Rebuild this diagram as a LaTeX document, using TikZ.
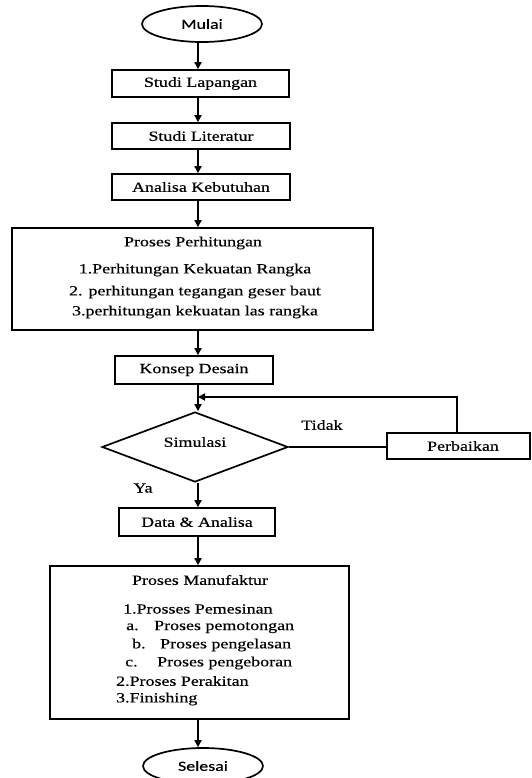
\documentclass[tikz,border=0pt]{standalone}
\usepackage{fontspec}
\setmainfont[FakeStretch=1.28,FakeBold=0.4]{Liberation Serif}
\newfontfamily\calib[FakeStretch=1.28,FakeBold=0.4]{Carlito}
\usetikzlibrary{shapes.geometric,arrows.meta}
\begin{document}
\begin{tikzpicture}[x=1pt,y=-1pt,
  every node/.style={font=\fontsize{14}{17}\selectfont},
  box/.style={draw,line width=1.7pt,inner sep=0pt,minimum width=#1},
  oval/.style={draw,ellipse,line width=1.7pt,inner sep=0pt,minimum width=120pt,minimum height=36pt,font=\calib\fontsize{14}{17}\selectfont},
  arr/.style={line width=1.7pt,-{Triangle[length=7pt,width=7pt]}},
  ln/.style={line width=1.7pt},
  txt/.style={inner sep=0pt}]
\useasboundingbox (0,0) rectangle (531,778);
\fill[white] (0,0) rectangle (531,778);
\coordinate (axis) at (198,0);
% nodes
\node[oval] (mulai) at (202,24) {Mulai};
\node[box=177pt,minimum height=27pt] (lap) at (200.5,83.5) {Studi Lapangan};
\node[box=178pt,minimum height=26pt] (lit) at (201,136) {Studi Literatur};
\node[box=178pt,minimum height=26pt] (ana) at (201,187) {Analisa Kebutuhan};
\node[box=361pt,minimum height=102pt] (hit) at (192.5,279) {};
\node[txt] (hit0) at (193,243) {Proses Perhitungan};
\node[txt] (hit1) at (195,270) {1.Perhitungan Kekuatan Rangka};
\node[txt] (hit2) at (195,292) {2. perhitungan tegangan geser baut};
\node[txt] (hit3) at (195,312) {3.perhitungan kekuatan las rangka};
\node[box=158pt,minimum height=28pt] (kon) at (194,370) {Konsep Desain};
\node[draw,diamond,line width=1.7pt,inner sep=0pt,minimum width=186pt,minimum height=70pt,aspect=2.66] (sim) at (195,447) {};
\node[txt] (simt) at (195,442) {Simulasi};
\node[box=143pt,minimum height=26pt] (perb) at (458.5,446) {};
\node[txt] (perbt) at (463,446) {Perbaikan};
\node[txt] (tidak) at (322,425) {Tidak};
\node[txt] (ya) at (143,488) {Ya};
\node[box=156pt,minimum height=28pt] (data) at (197,522) {Data \& Analisa};
\node[box=299pt,minimum height=153pt] (manu) at (199.5,642.5) {};
\node[txt] (m0) at (200,580) {Proses Manufaktur};
\node[txt,anchor=west] (m1) at (123,609) {1.Prosses Pemesinan};
\node[txt,anchor=west] (m2) at (126,627) {\makebox[28pt][l]{a.}Proses pemotongan};
\node[txt,anchor=west] (m3) at (132,645) {\makebox[28pt][l]{b.}Proses pengelasan};
\node[txt,anchor=west] (m4) at (125,663) {\makebox[32pt][l]{c.}Proses pengeboran};
\node[txt,anchor=west] (m5) at (116,681) {2.Proses Perakitan};
\node[txt,anchor=west] (m6) at (116,699) {3.Finishing};
\node[oval] (sel) at (203,766) {Selesai};
% connectors
\draw[arr] (mulai.south -| axis) -- (lap.north -| axis);
\draw[arr] (lap.south -| axis) -- (lit.north -| axis);
\draw[arr] (lit.south -| axis) -- (ana.north -| axis);
\draw[arr] (ana.south -| axis) -- (hit.north -| axis);
\draw[arr] (hit.south -| axis) -- (kon.north -| axis);
\draw[arr] (kon.south -| axis) -- (sim.north -| axis);
\coordinate (fb) at (198,397);
\draw[arr] (perb.north -| 457,0) |- (fb);
\draw[ln] (sim.east) -- (sim.east -| perb.west);
\draw[arr] (sim.south -| axis) -- (data.north -| axis);
\draw[arr] (data.south -| axis) -- (manu.north -| axis);
\draw[arr] (manu.south -| axis) -- (sel.north -| axis);
\end{tikzpicture}
\end{document}
